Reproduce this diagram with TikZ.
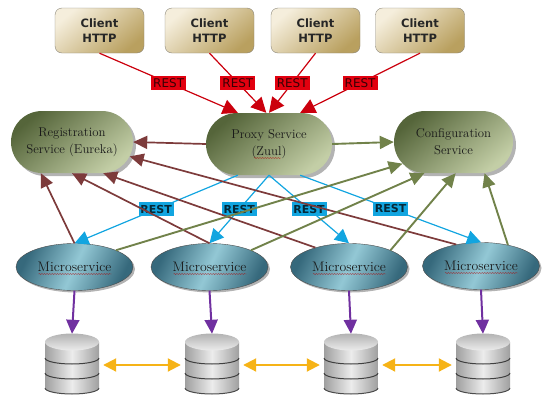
\documentclass[tikz,border=0pt]{standalone}
\usepackage{fontspec}
\newfontfamily\clientfont{DejaVu Sans}
\usetikzlibrary{shapes.geometric, shapes.misc, arrows.meta, shadows, decorations.pathmorphing}

\definecolor{clientlight}{HTML}{F5EEDC}
\definecolor{clientdark}{HTML}{B9A05F}
\definecolor{srvdark}{HTML}{55653A}
\definecolor{srvlight}{HTML}{C3CEA6}
\definecolor{microdark}{HTML}{36697C}
\definecolor{microlight}{HTML}{93C8D5}
\definecolor{restred}{HTML}{E2000F}
\definecolor{restblue}{HTML}{12A5E0}
\definecolor{regline}{HTML}{7D3B3B}
\definecolor{cfgline}{HTML}{71824A}
\definecolor{dbline}{HTML}{7030A0}
\definecolor{syncline}{HTML}{F6B317}

\tikzstyle{client} = [rectangle,rounded corners=7pt,draw=gray!80!clientdark,minimum width=89pt,minimum height=45pt,align=center,inner sep=0pt,
  top color=clientlight,bottom color=clientdark,shading angle=40,font=\clientfont\bfseries\fontsize{11.5}{15}\selectfont,text=black!85]
\tikzstyle{srv} = [rounded rectangle,minimum height=62pt,align=center,inner sep=0pt,top color=srvdark,bottom color=srvlight,shading angle=40,
  drop shadow={shadow xshift=3pt,shadow yshift=-3pt,opacity=.6},font=\fontsize{12.8}{17}\selectfont,text=black!90]
\tikzstyle{micro} = [ellipse,draw=black!70,minimum width=117pt,minimum height=47pt,inner sep=0pt,left color=microdark,right color=microdark,middle color=microlight,
  shading angle=65,drop shadow={shadow xshift=2pt,shadow yshift=-2pt,opacity=.6},font=\fontsize{13.8}{15}\selectfont,text=black!90]
\tikzstyle{dbbox} = [rectangle,minimum width=54pt,minimum height=62pt,inner sep=0pt]
\tikzstyle{labred} = [fill=restred,inner xsep=0pt,inner ysep=0pt,minimum width=35pt,minimum height=14pt,font=\clientfont\fontsize{12}{12}\selectfont,text=black!75!restred]
\tikzstyle{labblue} = [fill=restblue,inner xsep=0pt,inner ysep=0pt,minimum width=35pt,minimum height=14pt,font=\clientfont\bfseries\fontsize{11}{11}\selectfont,text=black!75!restblue]
\tikzstyle{redarrow} = [line width=1.2pt,color=restred!90!black,-{Triangle[length=15pt,width=15pt]}]
\tikzstyle{bluearrow} = [line width=1.2pt,color=restblue,-{Triangle[length=14pt,width=14pt]}]
\tikzstyle{regarrow} = [line width=1.7pt,color=regline,-{Triangle[length=14pt,width=13pt]}]
\tikzstyle{cfgarrow} = [line width=1.9pt,color=cfgline,-{Triangle[length=14pt,width=13pt]}]
\tikzstyle{dbarrow} = [line width=2pt,color=dbline,-{Triangle[length=14pt,width=13pt]}]
\tikzstyle{syncarrow} = [line width=2pt,color=syncline,{Triangle[length=13pt,width=13pt]}-{Triangle[length=13pt,width=13pt]},shorten >=4pt,shorten <=4pt]
\tikzstyle{squiggle} = [red!70!black,opacity=.6,line width=.4pt,decorate,decoration={snake,amplitude=.6pt,segment length=2.6pt}]

\begin{document}
\begin{tikzpicture}[x=1pt,y=-1pt]
  \useasboundingbox (0,0) rectangle (555,410);

  % clients
  \foreach \name/\cx in {c1/99.5,c2/209.5,c3/315.5,c4/420}
    \node[client] (\name) at (\cx,30.5) {Client\\HTTP};

  % services
  \node[srv,minimum width=122pt] (reg) at (72,142) {Registration\\Service (Eureka)};
  \node[srv,minimum width=126pt] (proxy) at (269,144) {Proxy Service\\(Zuul)};
  \node[srv,minimum width=119pt] (cfg) at (453.5,142) {Configuration\\Service};
  \draw[squiggle] ([xshift=-15pt,yshift=-14pt]proxy.center) -- ([xshift=12pt,yshift=-14pt]proxy.center);

  % microservices
  \foreach \name/\cx/\cy in {m1/74.5/267,m2/209.5/267,m3/349/267,m4/481/266} {
    \node[micro] (\name) at (\cx,\cy) {Microservice};
    \draw[squiggle] ([xshift=-36pt,yshift=-7pt]\name.center) -- ([xshift=37pt,yshift=-7pt]\name.center);
  }

  % databases
  \foreach \name/\cx in {db1/72,db2/212,db3/351,db4/483} {
    \node[dbbox] (\name) at (\cx,365) {};
    \begin{scope}[shift={(\name)}]
      \path[left color=gray!75,right color=gray!75,middle color=gray!15] (-27,-23) -- (-27,23) arc[start angle=180,end angle=360,x radius=27pt,y radius=6pt] -- (27,-23) -- cycle;
      \draw[black!75,line width=1pt] (-27,-7) arc[start angle=180,end angle=360,x radius=27pt,y radius=6pt];
      \draw[black!75,line width=1pt] (-27,8) arc[start angle=180,end angle=360,x radius=27pt,y radius=6pt];
      \draw[black!70,line width=1pt] (-27,23) arc[start angle=180,end angle=360,x radius=27pt,y radius=6pt];
      \path[top color=gray!60,bottom color=gray!15] (0,-23) ellipse[x radius=27pt,y radius=8.5pt];
    \end{scope}
  }

  % client calls
  \draw[redarrow] (c1.south) -- node[labred] (r1) {REST} (proxy.135);
  \draw[redarrow] (c2.south) -- node[labred] (r2) {REST} (proxy.95);
  \draw[redarrow] (c3.south) -- node[labred] (r3) {REST} (proxy.north);
  \draw[redarrow] (c4.south) -- node[labred] (r4) {REST} (proxy.45);

  % routed calls
  \draw[bluearrow] (proxy.225) -- node[labblue] (b1) {REST} (m1.north);
  \draw[bluearrow] (proxy.south) -- node[labblue] (b2) {REST} (m2.north);
  \draw[bluearrow] (proxy.south) -- node[labblue] (b3) {REST} (m3.north);
  \draw[bluearrow] (proxy.-45) -- node[labblue] (b4) {REST} (m4.north);

  % registration
  \draw[regarrow] (proxy.west) -- (reg.east);
  \draw[regarrow] (m1.north) -- (reg.-135);
  \draw[regarrow] (m2.north) -- (reg.south);
  \draw[regarrow] (m3.150) -- (reg.-45);
  \draw[regarrow] (m4.139) -- (reg.-14);

  % configuration
  \draw[cfgarrow] (proxy.east) -- (cfg.west);
  \draw[cfgarrow] (m1.22) -- (cfg.-157);
  \draw[cfgarrow] (m2.22) -- (cfg.-133);
  \draw[cfgarrow] (m3.22) -- (cfg.-86);
  \draw[cfgarrow] (m4.38) -- (cfg.-45);

  % storage
  \foreach \src/\dst in {m1/db1,m2/db2,m3/db3,m4/db4}
    \draw[dbarrow] (\src.south) -- (\dst.north);
  \foreach \src/\dst in {db1/db2,db2/db3,db3/db4}
    \draw[syncarrow] (\src.east) -- (\dst.west);
\end{tikzpicture}
\end{document}
